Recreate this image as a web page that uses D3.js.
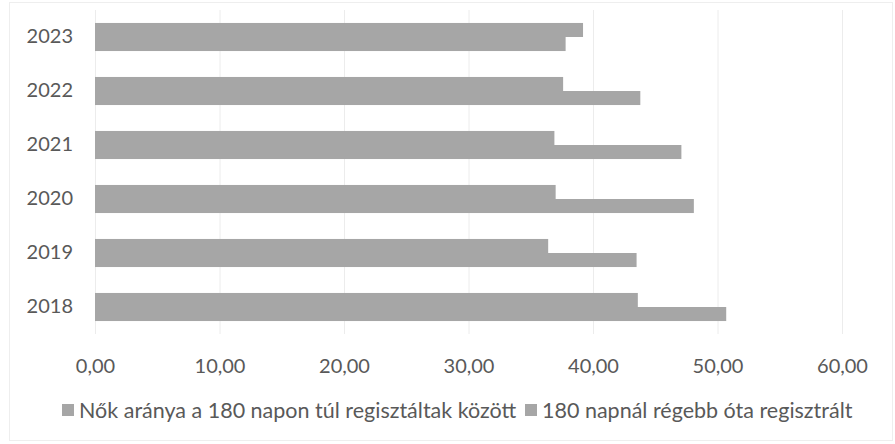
<!DOCTYPE html>
<html>
<head>
<meta charset="utf-8">
<script src="https://cdn.jsdelivr.net/npm/d3@7"></script>
<style>
  html, body { margin: 0; padding: 0; background: #fff; }
  svg { display: block; }
  text { font-family: Lato, "Open Sans", sans-serif; fill: #595959; }
</style>
</head>
<body>
<svg id="chart" width="895" height="444"></svg>
<script>
const years = ["2018", "2019", "2020", "2021", "2022", "2023"];
const seriesNames = ["Nők aránya a 180 napon túl regisztáltak között", "180 napnál régebb óta regisztrált"];
const nokAranya = [50.7, 43.5, 48.1, 47.1, 43.8, 37.8];
const regebbOta = [43.6, 36.4, 37.0, 36.9, 37.6, 39.2];
const xTicks = [0, 10, 20, 30, 40, 50, 60];

const svg = d3.select("#chart");
const barColor = "#a6a6a6";

// faint chart border
svg.append("rect").attr("x", 9.5).attr("y", 2.5).attr("width", 883).attr("height", 438)
  .attr("fill", "none").attr("stroke", "#eeeeee").attr("stroke-width", 1);

const x = d3.scaleLinear().domain([0, 60]).range([95, 842]);
const y = d3.scaleBand().domain(years.slice().reverse()).range([10, 334])
  .paddingInner(0.48).paddingOuter(0.24);
const ySub = d3.scaleBand().domain(["s2", "s1"]).range([0, y.bandwidth()]);

// gridlines
svg.append("g").selectAll("line").data(xTicks).join("line")
  .attr("x1", d => x(d) + 0.5).attr("x2", d => x(d) + 0.5)
  .attr("y1", 10).attr("y2", 334)
  .attr("stroke", "#ececec").attr("stroke-width", 1);

const data = years.map((yr, i) => ({ year: yr, s1: nokAranya[i], s2: regebbOta[i] }));

const groups = svg.append("g").selectAll("g").data(data).join("g")
  .attr("transform", d => `translate(0,${y(d.year)})`);
groups.selectAll("rect").data(d => [{ k: "s2", v: d.s2 }, { k: "s1", v: d.s1 }]).join("rect")
  .attr("x", x(0))
  .attr("y", d => ySub(d.k))
  .attr("width", d => x(d.v) - x(0))
  .attr("height", ySub.bandwidth())
  .attr("fill", barColor);

// y axis labels
const yAxis = d3.axisLeft(y).tickSize(0).tickPadding(22);
const gy = svg.append("g").attr("transform", `translate(${x(0)},0)`).call(yAxis);
gy.select(".domain").remove();
gy.selectAll("text").style("font-size", "20px").attr("fill", "#595959");

// x axis labels
const fmt = v => d3.format(".2f")(v).replace(".", ",");
const xAxis = d3.axisBottom(x).tickValues(xTicks).tickFormat(fmt).tickSize(0).tickPadding(25);
const gx = svg.append("g").attr("transform", `translate(0,334)`).call(xAxis);
gx.select(".domain").remove();
gx.selectAll("text").style("font-size", "20px").attr("fill", "#595959");

// legend
const legend = svg.append("g").attr("transform", "translate(0,410)");
const legItems = [
  { name: seriesNames[0], sx: 62 },
  { name: seriesNames[1], sx: 525 }
];
legItems.forEach(it => {
  legend.append("rect").attr("x", it.sx).attr("y", -6).attr("width", 12).attr("height", 12).attr("fill", barColor);
  legend.append("text").attr("x", it.sx + 17).attr("y", 0).attr("dy", "0.35em")
    .style("font-size", "21.5px").text(it.name);
});
</script>
</body>
</html>
